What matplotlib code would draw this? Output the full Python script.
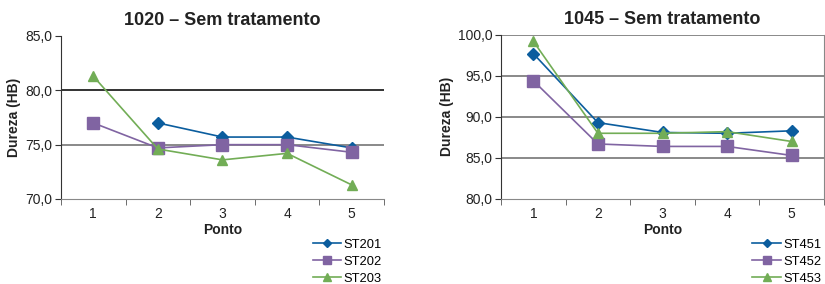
import numpy as np
import matplotlib
matplotlib.use("Agg")
import matplotlib.pyplot as plt
from matplotlib.ticker import FuncFormatter

plt.rcParams['font.family'] = ['Liberation Sans', 'DejaVu Sans']

pontos = [1, 2, 3, 4, 5]

title_left = "1020 – Sem tratamento"
st201 = [np.nan, 77.0, 75.7, 75.7, 74.7]
st202 = [77.0, 74.7, 75.0, 75.0, 74.3]
st203 = [81.3, 74.6, 73.6, 74.2, 71.3]
labels_left = ["ST201", "ST202", "ST203"]

title_right = "1045 – Sem tratamento"
st451 = [97.7, 89.3, 88.1, 88.0, 88.3]
st452 = [94.4, 86.7, 86.4, 86.4, 85.3]
st453 = [99.2, 88.0, 88.0, 88.2, 87.0]
labels_right = ["ST451", "ST452", "ST453"]

blue = "#0b5d9e"
purple = "#8064a2"
green = "#72ad56"

fig = plt.figure(figsize=(8.25, 2.84), dpi=100)

def comma(v, pos):
    return f"{v:.1f}".replace(".", ",")

def draw(ax, series, labels, ylim, yticks, title, grid_colors, right_spine, leg_x):
    x = np.array(pontos)
    styles = [(blue, 'D', 6), (purple, 's', 8), (green, '^', 7)]
    lines = []
    for s, lab, (c, m, ms) in zip(series, labels, styles):
        l, = ax.plot(x, s, color=c, marker=m, markersize=ms, lw=1.2, label=lab,
                     markeredgecolor=c, zorder=3)
        lines.append(l)
    ax.set_xlim(0.5, 5.5)
    ax.set_ylim(*ylim)
    ax.set_yticks(yticks)
    ax.yaxis.set_major_formatter(FuncFormatter(comma))
    ax.set_xticks(pontos)
    ax.set_xticks(np.arange(0.5, 5.6, 1.0), minor=True)
    ax.tick_params(axis='x', which='major', length=0, labelsize=10, pad=6, colors='#222222')
    ax.tick_params(axis='x', which='minor', length=4, direction='out', color='#555555')
    ax.tick_params(axis='y', length=4, direction='out', labelsize=10, pad=2, colors='#222222', color='#333333')
    for yv, gc in grid_colors:
        ax.axhline(yv, color=gc, lw=1.3, zorder=1)
    ax.spines['top'].set_visible(False)
    ax.spines['right'].set_visible(right_spine)
    ax.spines['right'].set_color('#888888')
    ax.spines['left'].set_color('#333333')
    ax.spines['bottom'].set_color('#888888')
    ax.set_title(title, fontsize=13, fontweight='bold', pad=8, color='#222222')
    ax.set_xlabel("Ponto", fontsize=10, fontweight='bold', labelpad=1, color='#222222')
    ax.set_ylabel("Dureza (HB)", fontsize=10, fontweight='bold', labelpad=3, color='#222222')
    fig.legend(handles=lines, labels=labels, loc='upper left',
               bbox_to_anchor=(leg_x, 0.16), frameon=False, fontsize=9.3,
               handlelength=2.2, handletextpad=0.2, labelspacing=0.4,
               borderpad=0, borderaxespad=0, markerscale=0.75)
    return ax

ax1 = fig.add_axes([0.0739, 0.2993, 0.3915, 0.574])
draw(ax1, [st201, st202, st203], labels_left, (70, 85), [70, 75, 80, 85],
     title_left, [(75, '#808080'), (80, '#222222')], False, 0.379)

ax2 = fig.add_axes([0.6073, 0.2993, 0.3915, 0.5785])
draw(ax2, [st451, st452, st453], labels_right, (80, 100), [80, 85, 90, 95, 100],
     title_right, [(85, '#808080'), (90, '#808080'), (95, '#808080'), (100, '#808080')], True, 0.912)

fig.savefig("out.png", dpi=100)
